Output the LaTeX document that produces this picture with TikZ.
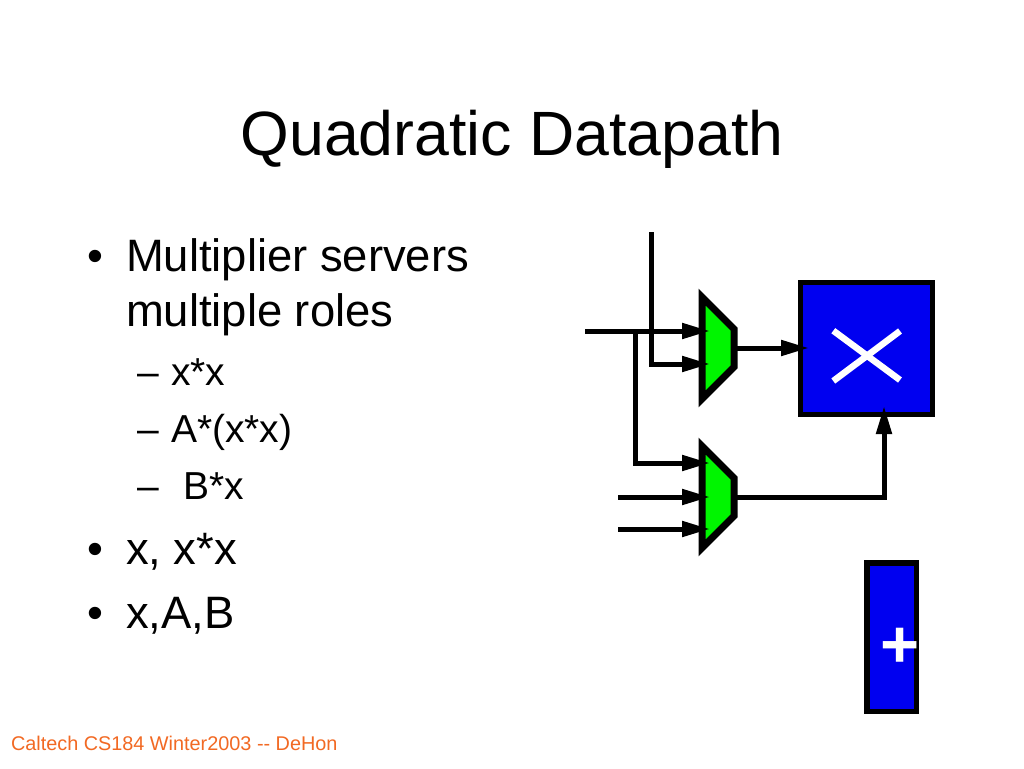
\documentclass[tikz,border=0pt]{standalone}
\usepackage{fontspec}
\setmainfont{Liberation Sans}
\usetikzlibrary{arrows.meta}
\definecolor{muxgreen}{RGB}{0,245,0}
\definecolor{blockblue}{RGB}{0,0,240}
\definecolor{footorange}{RGB}{242,105,35}
\newcommand{\fsz}[1]{\fontsize{#1}{#1}\selectfont}
\tikzset{
  txt/.style={anchor=base west,inner sep=0pt,outer sep=0pt,text=black},
  lvlone/.style={txt,font=\fsz{45.4}},
  lvltwo/.style={txt,font=\fsz{39}},
  blockbox/.style={draw=black,fill=blockblue,line width=5pt,rectangle,inner sep=0pt,outer sep=0pt},
  muxshape/.style={draw=black,fill=muxgreen,line width=7pt,line join=miter},
  wire/.style={draw=black,line width=5pt,line join=miter},
  arrowwire/.style={wire,-{Triangle[length=28pt,width=15pt]}},
  glyphline/.style={draw=white,line width=6.5pt}
}
\begin{document}
\begin{tikzpicture}[x=1pt,y=-1pt]
\useasboundingbox (0,0) rectangle (1024,768);
\fill[white] (0,0) rectangle (1024,768);
% text
\node[txt,font=\fsz{62.6}] (title) at (240.5,155) {Quadratic Datapath};
\node[lvlone] (b1) at (87,271.5) {•};
\node[lvlone] (t1) at (126,271.5) {Multiplier servers};
\node[lvlone] (t1b) at (126,326.5) {multiple roles};
\node[lvltwo] (d1) at (137,385) {–};
\node[lvltwo] (t2) at (171,385) {x*x};
\node[lvltwo] (d2) at (137,442.5) {–};
\node[lvltwo] (t3) at (171,442.5) {A*(x*x)};
\node[lvltwo] (d3) at (137,499) {–};
\node[lvltwo] (t4) at (183,499) {B*x};
\node[lvlone] (b2) at (87,564) {•};
\node[lvlone] (t5) at (126,564) {x, x*x};
\node[lvlone] (b3) at (87,628.5) {•};
\node[lvlone] (t6) at (126,628.5) {x,A,B};
\node[txt,font=\fsz{19.85},text=footorange] (foot) at (11,750) {Caltech CS184 Winter2003 {-}{-} DeHon};
% blocks
\node[blockbox,minimum width=132pt,minimum height=132pt] (mult) at (866.5,348.5) {};
\node[blockbox,line width=5.5pt,minimum width=49.5pt,minimum height=148.5pt] (add) at (891.5,637) {};
\draw[glyphline] (833.3,330.7) -- (900,380);
\draw[glyphline] (833.3,381) -- (900,331);
\node[inner sep=0pt,text=white,font=\fsz{67}\bfseries] (plus) at (900,648) {+};
% muxes
\draw[muxshape] (702,297) -- (734,329) -- (734,367) -- (702,399) -- cycle;
\draw[muxshape] (702,446) -- (734,478) -- (734,516) -- (702,548) -- cycle;
% named terminals
\coordinate (inx) at (585,331);
\coordinate (jn) at (635,331);
\coordinate (m1a) at (710,331);
\coordinate (m1b) at (710,364);
\coordinate (top) at (651,232);
\coordinate (m2a) at (710,463);
\coordinate (m2b) at (710,497);
\coordinate (m2c) at (710,529);
\coordinate (ina) at (618,497);
\coordinate (inb) at (618,529);
\coordinate (m1o) at (734,348);
\coordinate (m2o) at (734,497);
\coordinate (mi1) at (809,348);
\coordinate (mi2) at (884,406);
% wires
\draw[arrowwire] (top) |- (m1b);
\draw[arrowwire] (inx) -- (m1a);
\draw[arrowwire] (jn) |- (m2a);
\draw[arrowwire] (ina) -- (m2b);
\draw[arrowwire] (inb) -- (m2c);
\draw[arrowwire] (m1o) -- (mi1);
\draw[arrowwire] (m2o) -| (mi2);
\end{tikzpicture}
\end{document}
